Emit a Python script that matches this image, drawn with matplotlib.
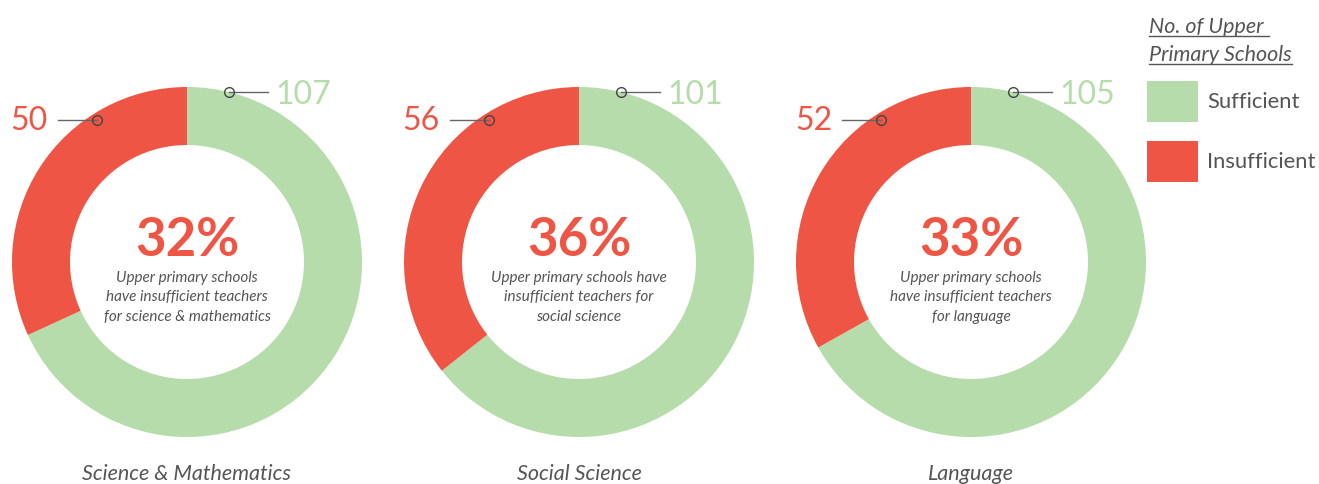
import matplotlib.pyplot as plt

plt.rcParams['font.family'] = ['Lato', 'DejaVu Sans']

categories = ["Science & Mathematics", "Social Science", "Language"]
sufficient = [107, 101, 105]
insufficient = [50, 56, 52]
notes = [
    ["Upper primary schools", "have insufficient teachers", "for science & mathematics"],
    ["Upper primary schools have", "insufficient teachers for", "social science"],
    ["Upper primary schools", "have insufficient teachers", "for language"],
]

GREEN = "#b5dcaa"
RED = "#ef5545"
GREY = "#555555"

W, H = 1319, 484
centers = [187, 579, 971]
cy = 262
R = 175
ring = 58

fig = plt.figure(figsize=(W / 100, H / 100), dpi=100)
ax = fig.add_axes([0, 0, 1, 1])

for cx, cat, ok, bad, note in zip(centers, categories, sufficient, insufficient, notes):
    # y axis is flipped later, so counterclock=True draws clockwise on screen
    ax.pie([ok, bad], colors=[GREEN, RED], center=(cx, cy), radius=R,
           startangle=270, counterclock=True,
           wedgeprops=dict(width=ring, edgecolor='none'))

    pct = round(100 * bad / (ok + bad))
    ax.text(cx, 256, f"{pct}%", color=RED, fontsize=38, fontweight='bold',
            ha='center', va='baseline')
    for i, line in enumerate(note):
        ax.text(cx, 282 + 19.4 * i, line, color=GREY, fontsize=11, style='italic',
                ha='center', va='baseline')
    ax.text(cx, 480.5, cat, color=GREY, fontsize=15.5, style='italic',
            ha='center', va='baseline')

    # callouts
    gx, gy = cx + 42, 92
    ax.plot([gx, cx + 81], [gy, gy], color='#666666', lw=1)
    ax.plot(gx, gy, 'o', ms=7, mfc='none', mec='#444444', mew=1)
    ax.text(cx + 88, 104, str(ok), color=GREEN, fontsize=23,
            ha='left', va='baseline')

    rx, ry = cx - 90, 120
    ax.plot([cx - 129, rx], [ry, ry], color='#666666', lw=1)
    ax.plot(rx, ry, 'o', ms=7, mfc='none', mec='#444444', mew=1)
    ax.text(cx - 139, 130, str(bad), color=RED, fontsize=23,
            ha='right', va='baseline')

# legend
t1 = ax.text(1149, 33, "No. of Upper ", color=GREY, fontsize=15.5, style='italic',
             ha='left', va='baseline')
t2 = ax.text(1149, 61, "Primary Schools", color=GREY, fontsize=15.5, style='italic',
             ha='left', va='baseline')

for y0, col, lab in [(81, GREEN, "Sufficient"), (141, RED, "Insufficient")]:
    ax.add_patch(plt.Rectangle((1147, y0), 51, 41, color=col, lw=0))
    ax.text(1207, y0 + 27, lab, color=GREY, fontsize=15.8, ha='left', va='baseline')

ax.set_xlim(0, W)
ax.set_ylim(H, 0)
ax.axis('off')

# underline the legend title
fig.canvas.draw()
for t, yline in [(t1, 36), (t2, 64)]:
    bb = t.get_window_extent()
    ax.plot([bb.x0, bb.x1], [yline, yline], color=GREY, lw=1)

fig.savefig("out.png", dpi=100, facecolor='white')
